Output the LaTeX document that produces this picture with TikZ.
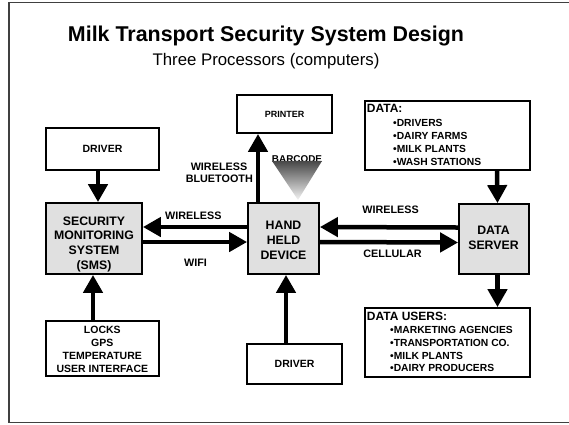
\documentclass[tikz,border=0pt]{standalone}
\usepackage{fontspec}
\setmainfont{Liberation Sans}
\usetikzlibrary{arrows.meta,shadows}
\begin{document}
\begin{tikzpicture}[x=1pt,y=-1pt,
  box/.style={draw=black,line width=1.8pt,fill=white,inner sep=0pt,
    drop shadow={shadow xshift=1pt,shadow yshift=-1pt,fill=black!45,opacity=1}},
  graybox/.style={box,fill=black!12},
  arr/.style={line width=4.5pt,-{Triangle[width=19pt,length=18pt]}},
  lbl/.style={font=\fontsize{10.8}{13}\selectfont\bfseries,inner sep=0pt,anchor=base},
  smalltxt/.style={font=\fontsize{10.5}{13}\selectfont\bfseries},
  bigtxt/.style={font=\fontsize{12.3}{14.8}\selectfont\bfseries,inner sep=0pt,align=center},
  headtxt/.style={font=\fontsize{12}{14}\selectfont\bfseries,inner sep=0pt,anchor=base west},
  itemtxt/.style={font=\fontsize{10.3}{13}\selectfont\bfseries,inner sep=0pt,anchor=base west}
]
\useasboundingbox (0,0) rectangle (569,424);
% frame
\draw[line width=1.4pt,black!75] (9,2.5) rectangle (600,422.5);

% titles
\node[font=\fontsize{21.4}{24}\selectfont\bfseries,inner sep=0pt,anchor=base] (title) at (266,41.7) {Milk Transport Security System Design};
\node[font=\fontsize{16.8}{20}\selectfont,inner sep=0pt,anchor=base] (subtitle) at (266,65) {Three Processors (computers)};

% boxes
\node[box,minimum width=113pt,minimum height=42pt,smalltxt] (driverA) at (102.5,149) {DRIVER};
\node[graybox,minimum width=96pt,minimum height=71pt] (sms) at (94,238.5) {};
\node[bigtxt] (smst) at (94,244.3) {SECURITY\\MONITORING\\SYSTEM\\(SMS)};
\node[box,minimum width=113pt,minimum height=55pt] (locks) at (102.5,348.5) {};
\node[font=\fontsize{10.5}{13}\selectfont\bfseries,inner sep=0pt,align=center] (lockst) at (102.3,349) {LOCKS\\GPS\\TEMPERATURE\\USER INTERFACE};
\node[graybox,minimum width=71pt,minimum height=71pt] (hhd) at (283.5,238.5) {};
\node[bigtxt] (hhdt) at (283.5,240.6) {HAND\\HELD\\DEVICE};
\node[box,minimum width=95pt,minimum height=38pt,font=\fontsize{9}{11}\selectfont\bfseries] (printer) at (284.5,114) {PRINTER};
\node[box,minimum width=95pt,minimum height=40pt,smalltxt] (driverB) at (294.5,364) {DRIVER};
\node[graybox,minimum width=70pt,minimum height=70pt] (ds) at (494,239) {};
\node[bigtxt] (dst) at (493.5,237.9) {DATA\\SERVER};

\node[box,minimum width=165pt,minimum height=69pt] (data) at (447.5,135.5) {};
\node[headtxt] (datah) at (366.7,112.3) {DATA:};
\node[itemtxt] (d1) at (393,126.7) {•DRIVERS};
\node[itemtxt] (d2) at (393,139.5) {•DAIRY FARMS};
\node[itemtxt] (d3) at (393,152.5) {•MILK PLANTS};
\node[itemtxt] (d4) at (393,165.5) {•WASH STATIONS};

\node[box,minimum width=165pt,minimum height=69pt] (users) at (447.5,342.5) {};
\node[headtxt] (usersh) at (366.7,320) {DATA USERS:};
\node[itemtxt] (u1) at (390,333.3) {•MARKETING AGENCIES};
\node[itemtxt] (u2) at (390,346) {•TRANSPORTATION CO.};
\node[itemtxt] (u3) at (390,359) {•MILK PLANTS};
\node[itemtxt] (u4) at (390,371.7) {•DAIRY PRODUCERS};

% barcode
\node[font=\fontsize{9.9}{12}\selectfont\bfseries,inner sep=0pt,anchor=base] (barcode) at (297,162.3) {BARCODE};
\shade[top color=black!72,bottom color=black!4] (272,161) -- (322,161) -- (298,200) -- cycle;

% arrows
\draw[arr] ([xshift=-4.5pt]driverA.south) -- ([xshift=4pt]sms.north);
\draw[arr] ([xshift=-9.5pt]locks.north) -- ([xshift=-1pt]sms.south);
\draw[arr] ([yshift=11.5pt]hhd.west) -- ([yshift=11.5pt]sms.east);
\draw[arr] ([yshift=-3.5pt]sms.east) -- ([yshift=-3.5pt]hhd.west);
\draw[arr] ([xshift=-25.5pt]hhd.north) -- ([xshift=-26.5pt]printer.south);
\draw[arr] ([xshift=-8.5pt]driverB.north) -- ([xshift=2.5pt]hhd.south);
\draw[arr] ([yshift=11.5pt]ds.west) -- ([yshift=11.5pt]hhd.east);
\draw[arr] ([yshift=-3.5pt]hhd.east) -- ([yshift=-3.5pt]ds.west);
\draw[arr] ([xshift=49.5pt]data.south) -- ([xshift=3.5pt]ds.north);
\draw[arr] ([xshift=3.5pt]ds.south) -- ([xshift=50pt]users.north);

% labels
\node[lbl] (lw1) at (193.3,219) {WIRELESS};
\node[lbl] (lwifi) at (195.5,266) {WIFI};
\node[lbl] (lwb1) at (219,170.7) {WIRELESS};
\node[lbl] (lwb2) at (219.3,182.3) {BLUETOOTH};
\node[lbl] (lw2) at (390.5,213.3) {WIRELESS};
\node[lbl] (lcell) at (392.5,257.3) {CELLULAR};
\end{tikzpicture}
\end{document}
